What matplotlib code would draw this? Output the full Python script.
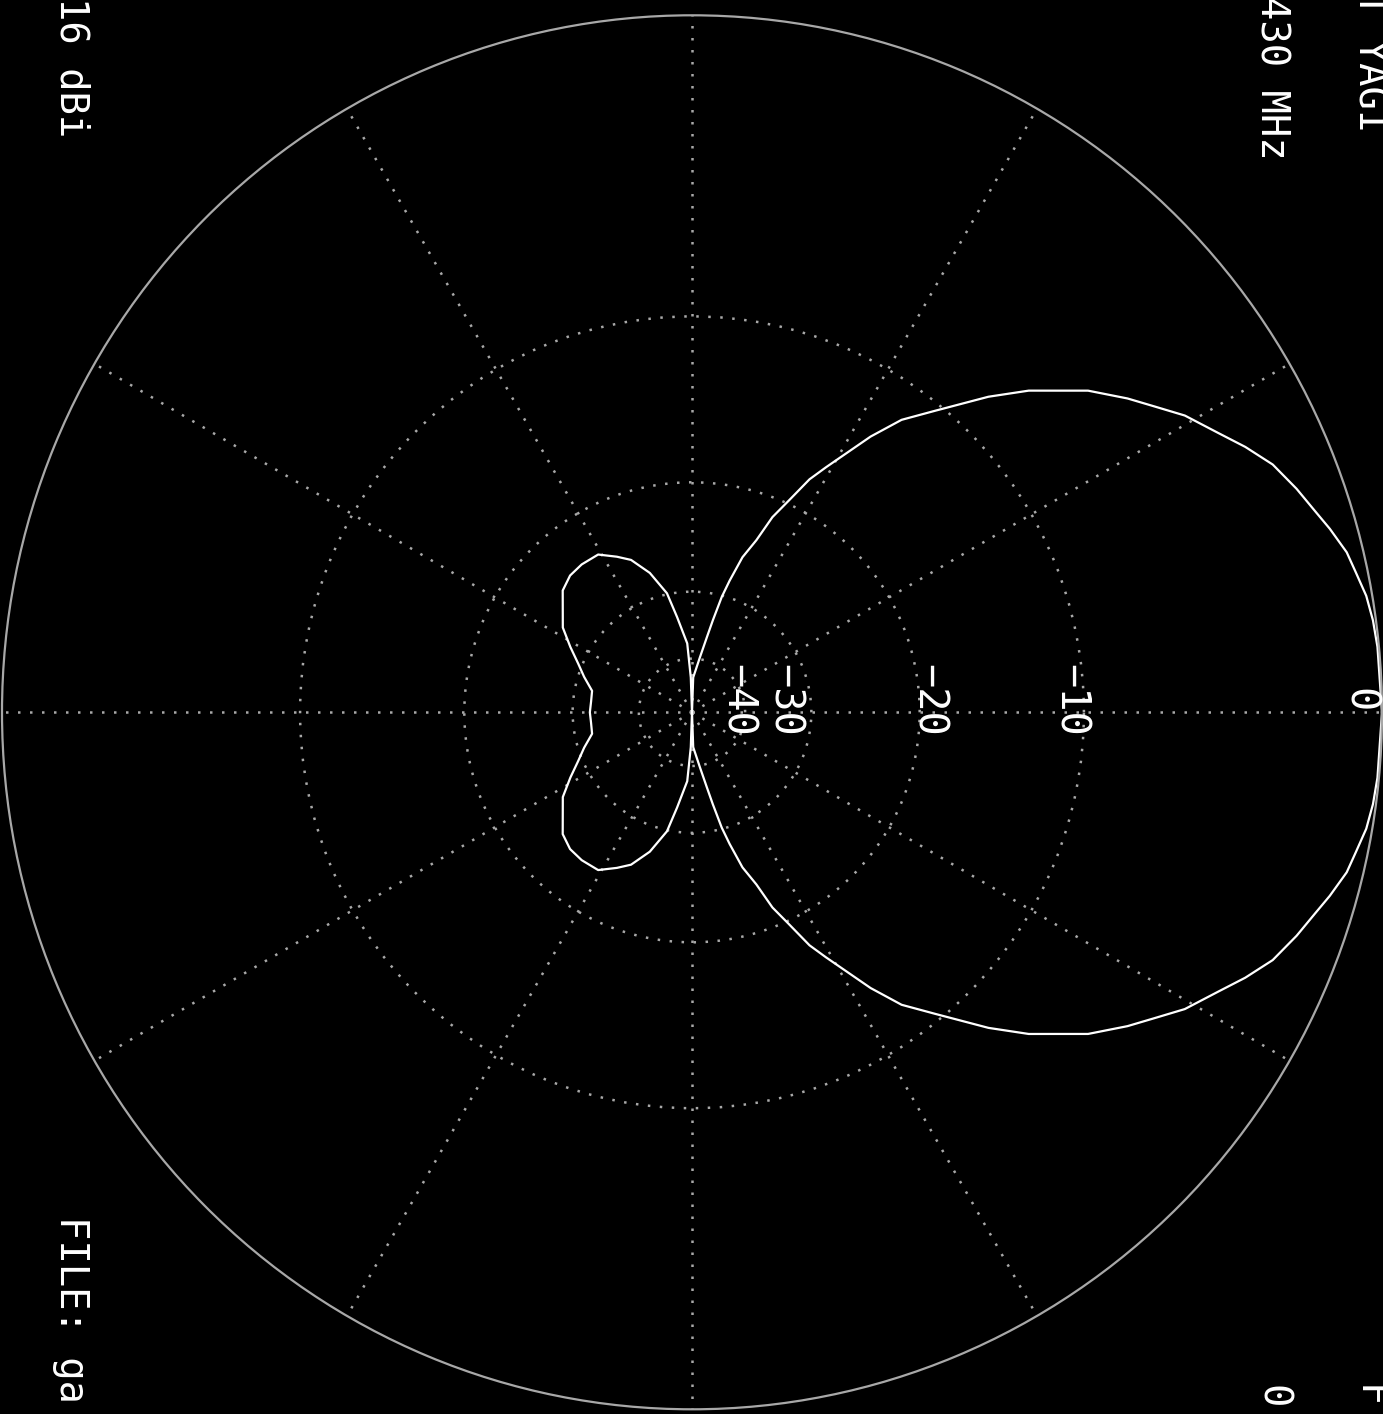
import numpy as np
import matplotlib.pyplot as plt

# azimuth pattern, upper half (degrees, dB relative to peak); lower half is mirrored
half_angles = [0, 5.4, 7.6, 9.7, 11.8, 13.6, 15.9, 17.7, 20.1, 22.9, 25.4, 27.7,
               30.8, 33.2, 35.5, 38.8, 40.8, 43.4, 46.5, 50.8, 54.1, 56.8,
               61.1, 63.0, 65.2, 67.4, 69.3, 71.8, 73.9, 75.4, 77.1, 78.7, 81.7,
               88, 90, 92, 94, 99, 102, 107, 112, 116, 121, 127, 132, 137, 147,
               152, 157, 162, 168, 174, 180]
half_gain = [0.0, -0.05, -0.1, -0.2, -0.4, -0.55, -0.9, -1.2, -1.55, -2.0, -2.6,
             -3.2, -3.9, -4.6, -5.2, -6.1, -6.8, -7.6, -8.7, -10.4, -12.1, -14.0,
             -17.0, -18.1, -19.8, -21.7, -24.2, -26.1, -28.5, -30.2,
             -33.9, -36.6, -39.7, -43.5, -50.0, -43.5, -37.7, -33.6, -29.9,
             -27.7, -26.0, -25.2, -24.2, -24.1, -24.2, -24.7, -26.8, -28.3,
             -29.6, -30.9, -32.6, -32.7, -32.6]

angles = np.array(half_angles + [360 - a for a in half_angles[-2::-1]])
gain = np.array(half_gain + half_gain[-2::-1])

# radial scale: dB value -> fraction of outer radius
scale_db = [-50, -40, -30, -20, -10, 0]
scale_r = [0.0, 0.077, 0.173, 0.330, 0.568, 1.0]

ring_db = [-40, -30, -20, -10]
ring_labels = ['0', '\u221210', '\u221220', '\u221230', '\u221240']
ring_label_db = [0, -10, -20, -30, -40]
label_nudge = [-23, -14, 8, -28, -8]


def to_radius(v):
    return np.interp(v, scale_db, scale_r)


def to_db(r):
    return np.interp(r, scale_r, scale_db)


W, H = 1383, 1414
gray = '#a8a8a8'
dots = (0, (1, 3.8))

fig = plt.figure(figsize=(W / 100, H / 100), dpi=100, facecolor='black')
ax = fig.add_axes([2 / W, 4.7 / H, 1380 / W, 1394 / H], projection='polar')
ax.set_facecolor('black')
ax.set_aspect('auto')
ax.set_rscale('function', functions=(to_radius, to_db))

ax.plot(np.radians(angles), gain, color='white', lw=1.6)
ax.set_rlim(-50, 0)
ax.set_rticks(ring_db)
ax.set_yticklabels([])
ax.set_thetagrids(range(0, 360, 30), labels=[])
ax.grid(True, color=gray, linestyle=dots, linewidth=1.8)
ax.spines['polar'].set_color(gray)
ax.spines['polar'].set_linewidth(1.6)
ax.tick_params(length=0)

mono = 'DejaVu Sans Mono'
for lab, db, dx in zip(ring_labels, ring_label_db, label_nudge):
    ax.annotate(lab, xy=(0, db), xytext=(dx, 12), textcoords='offset pixels',
                rotation=-90, ha='center', va='center', color='white',
                fontsize=29, family=mono, annotation_clip=False)

def side_text(x, y, s, va):
    fig.text(x / W, 1 - y / H, s, rotation=-90, ha='center', va=va,
             color='white', fontsize=28, family=mono)

side_text(71, -3, '16 dBi', 'top')
side_text(71, 1216, 'FILE: ga', 'top')
side_text(1272, 160, '430 MHz', 'bottom')
side_text(1272, 1385, '0', 'top')
side_text(1369, 132, 'T YAGI', 'bottom')
side_text(1369, 1385, 'F', 'top')

fig.savefig('out.png', dpi=100, facecolor='black')
